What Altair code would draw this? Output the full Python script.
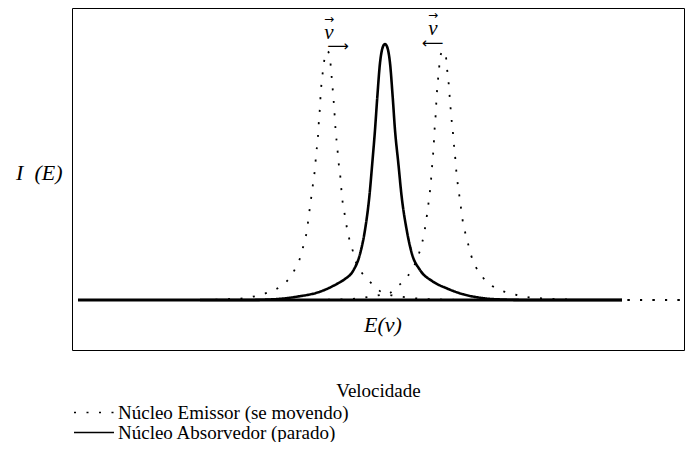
import altair as alt
import pandas as pd

# Series names (legend)
series_names = ["Núcleo Emissor (se movendo)", "Núcleo Absorvedor (parado)"]

# Emitting nucleus, moving (dotted) - line shifted to lower energy
emit_left_v = [-307, -235, -185, -155, -141.7, -129, -116.7, -105, -95.7, -89.3, -84.3, -81, -78.3,
               -76.7, -75, -73.3, -71.7, -70, -69, -67.7, -66.7, -66, -65, -64.3, -63.3, -61.7, -60,
               -57.5, -55, -53.8, -52.7, -51.7, -50.7, -50, -49, -47.7, -46.7, -45, -44, -43, -41,
               -39, -36.7, -33.3, -30, -25, -16.7, -8.3, -1.7, 5, 16.7, 30, 55, 95, 297]
emit_left_i = [0, 0, 0, 1, 1.7, 4, 7.7, 13.3, 21.7, 32.3, 44, 56.7, 68.3,
               80, 93.3, 106, 118.3, 131.7, 144, 156.7, 168.3, 181, 193.3, 206.7, 218.3, 231.7, 244,
               249, 241.7, 228.3, 215.7, 203.3, 190.7, 178.3, 165, 152.7, 140, 127.3, 115, 103.3, 90,
               77.3, 65, 53.3, 40.7, 30, 20, 11.7, 6.7, 5, 3.3, 1.7, 0.5, 0, 0]

# Emitting nucleus, moving (dotted) - line shifted to higher energy
emit_right_v = [-307, -185, -85, -45, -26.7, -15, -2.3, 5, 10, 19, 26.7, 32.3, 36, 39, 41, 42.7,
                44.3, 45.7, 46.7, 47.7, 48.7, 49.3, 50.3, 51, 51.7, 52.7, 54, 55, 58, 60.7, 61.7,
                63.3, 64.3, 65.3, 66.3, 67.7, 68.7, 70, 71, 72.3, 74, 75.7, 77.3, 79.7, 82.7, 86,
                90.7, 97.7, 107.3, 119.3, 131.7, 144, 156.7, 175, 215, 297]
emit_right_i = [0, 0, 0, 0.5, 1.7, 3.3, 5.5, 7, 11.7, 19.3, 30, 41.3, 53.3, 65.7, 78, 90.7,
                103.3, 116, 128.7, 141.3, 154, 166.7, 179, 191.7, 204.3, 217.3, 230, 242.7, 249, 246, 234,
                221, 208.3, 195.7, 183, 170.3, 157.7, 145, 132.3, 119.7, 107, 94.3, 81.7, 69.7, 57.7, 45,
                33.3, 22.7, 14, 8.3, 5, 2.7, 1.7, 0.7, 0, 0]

# Absorbing nucleus, at rest (solid)
abs_v = [-185, -138.3, -111.7, -88.3, -65, -48.3, -40, -32, -25, -20, -15.7, -12.7, -10, -7.7, -5,
         -2.5, 0, 2.5, 5, 7.7, 10, 13.3, 16.7, 21.7, 26.7, 35, 47, 61.7, 78.3, 95, 111.7, 145, 237]
abs_i = [0, 0, 0.7, 3.3, 8.3, 16, 21, 29, 46, 70, 103, 137, 170, 203, 237,
         252, 256, 252, 237, 203, 170, 137, 103, 70, 47, 30, 19, 11.7, 5.7, 2.3, 0.7, 0, 0]

# Thick baseline extent
baseline_v = [-307]
baseline_v2 = [237]
baseline_i = [0]

# Annotations
vec_x = [-56, 48]
vec_y = [267, 271]
vec_arrow_y = [281, 285]
motion_x = [-47, 47.5]
motion_y = [254, 257]
motion_txt = ["⟶", "⟵"]
ev_x = [-2]
ev_y = [-25]

emit_rows = []
for v, i in zip(emit_left_v, emit_left_i):
    emit_rows.append({"v": v, "I": i, "serie": series_names[0], "curva": "e1"})
for v, i in zip(emit_right_v, emit_right_i):
    emit_rows.append({"v": v, "I": i, "serie": series_names[0], "curva": "e2"})
emit_df = pd.DataFrame(emit_rows)
abs_df = pd.DataFrame({"v": abs_v, "I": abs_i, "serie": series_names[1], "curva": "a"})

xs = alt.Scale(domain=[-313, 299], nice=False, zero=False)
ys = alt.Scale(domain=[-50, 292], nice=False, zero=False)
SERIF = "'Liberation Serif', 'DejaVu Serif', serif"

dash_scale = alt.Scale(domain=series_names, range=[[2, 10.5], [1, 0]])

x_enc = alt.X("v:Q", scale=xs, axis=alt.Axis(
    title="Velocidade", labels=False, ticks=False, domain=False, grid=False,
    titlePadding=31, titleFont=SERIF, titleFontSize=19, titleFontWeight="normal",
    titleColor="black"))
y_enc = alt.Y("I:Q", scale=ys, axis=alt.Axis(
    title="I\u00a0\u00a0(E)", labels=False, ticks=False, domain=False, grid=False,
    titleAngle=0, titleAlign="right", titleBaseline="middle", titleX=-10, titleY=164,
    titleFont=SERIF, titleFontStyle="italic", titleFontSize=22, titleFontWeight="normal",
    titleColor="black"))
dash_enc = alt.StrokeDash("serie:N", scale=dash_scale, legend=alt.Legend(
    title=None, orient="none", legendX=12.5, legendY=395,
    symbolType="M-2.5,0L2.5,0", symbolSize=256, symbolStrokeColor="black",
    symbolStrokeWidth=1.4, labelFont=SERIF, labelFontSize=19, labelColor="black",
    labelOffset=14.5, rowPadding=0, padding=0, labelLimit=400))

emit_lines = alt.Chart(emit_df).mark_line(
    color="black", interpolate="monotone", strokeWidth=1.8).encode(
    x=x_enc, y=y_enc, strokeDash=dash_enc, detail="curva:N")
abs_line = alt.Chart(abs_df).mark_line(
    color="black", interpolate="monotone", strokeWidth=2.6).encode(
    x=x_enc, y=y_enc, strokeDash=dash_enc)

base_df = pd.DataFrame({"v": baseline_v, "v2": baseline_v2, "I": baseline_i})
base = alt.Chart(base_df).mark_rule(color="black", strokeWidth=3).encode(
    x=alt.X("v:Q", scale=xs), x2="v2:Q", y=alt.Y("I:Q", scale=ys))

vec_df = pd.DataFrame({"x": vec_x, "y": vec_y, "ya": vec_arrow_y})
vec_text = alt.Chart(vec_df).mark_text(
    text="v", font=SERIF, fontStyle="italic", fontSize=21, color="black").encode(
    x=alt.X("x:Q", scale=xs), y=alt.Y("y:Q", scale=ys))
vec_arrow = alt.Chart(vec_df).mark_text(
    text="→", font="DejaVu Sans", fontSize=12, color="black").encode(
    x=alt.X("x:Q", scale=xs), y=alt.Y("ya:Q", scale=ys))

mot_df = pd.DataFrame({"x": motion_x, "y": motion_y, "t": motion_txt})
mot = alt.Chart(mot_df).mark_text(font="DejaVu Sans", fontSize=15, color="black").encode(
    x=alt.X("x:Q", scale=xs), y=alt.Y("y:Q", scale=ys), text="t:N")

ev_df = pd.DataFrame({"x": ev_x, "y": ev_y})
ev = alt.Chart(ev_df).mark_text(
    text="E(v)", font=SERIF, fontStyle="italic", fontSize=22, color="black").encode(
    x=alt.X("x:Q", scale=xs), y=alt.Y("y:Q", scale=ys))

chart = alt.layer(base, emit_lines, abs_line, vec_text, vec_arrow, mot, ev).properties(
    width=612, height=342,
    padding={"left": 64, "top": 0, "right": 1, "bottom": 92},
    autosize=alt.AutoSizeParams(type="none"),
).configure_view(stroke="black", strokeWidth=1)

chart.save("out.html", embed_options={"renderer": "svg", "actions": False})
